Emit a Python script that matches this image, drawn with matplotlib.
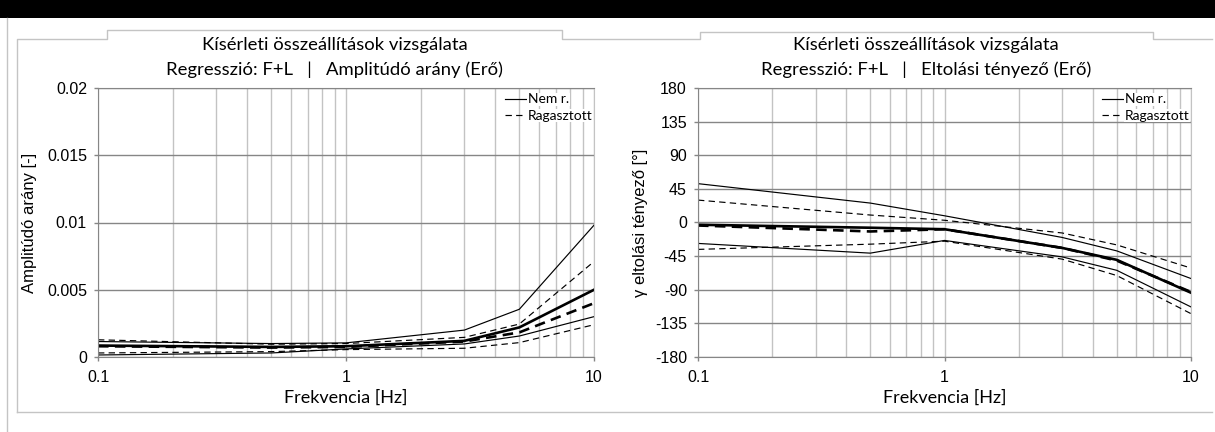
import matplotlib.pyplot as plt
from matplotlib.lines import Line2D
from matplotlib.patches import Rectangle
from matplotlib.ticker import FixedLocator, NullFormatter

W, H = 1215, 432

# measurement frequencies [Hz]
freq = [0.1, 0.5, 1, 3, 5, 10]

# amplitude ratio (force) - mean and band for both setups
amp_nem_mean = [0.00085, 0.00075, 0.0008, 0.0012, 0.0022, 0.0050]
amp_nem_upper = [0.00115, 0.0010, 0.00105, 0.0020, 0.00355, 0.0098]
amp_nem_lower = [0.00015, 0.0003, 0.0006, 0.00097, 0.00156, 0.0030]
amp_rag_mean = [0.0008, 0.0007, 0.00075, 0.00115, 0.00183, 0.0040]
amp_rag_upper = [0.00128, 0.00095, 0.0010, 0.00146, 0.00245, 0.0071]
amp_rag_lower = [0.0003, 0.0004, 0.00055, 0.00065, 0.00107, 0.0024]

# phase shift (force) [deg]
ph_nem_mean = [-3, -7, -9, -34, -50, -94]
ph_nem_upper = [52, 26, 9, -20, -38, -75]
ph_nem_lower = [-28, -41, -24, -46, -64, -113]
ph_rag_mean = [-4, -12, -9, -34, -51, -93]
ph_rag_upper = [30, 10, 3, -14, -30, -61]
ph_rag_lower = [-36, -29, -25, -49, -71, -122]

amp_ticks = [0, 0.005, 0.01, 0.015, 0.02]
amp_ticklabels = ['0', '0.005', '0.01', '0.015', '0.02']
ph_ticks = [-180, -135, -90, -45, 0, 45, 90, 135, 180]
x_ticks = [0.1, 1, 10]
x_ticklabels = ['0.1', '1', '10']
x_minor = [0.2, 0.3, 0.4, 0.5, 0.6, 0.7, 0.8, 0.9,
           2, 3, 4, 5, 6, 7, 8, 9]

TITLE_FONT = 'Lato'
TICK_FONT = 'Liberation Sans'


def fx(x):
    return x / W


def fy(y):
    return 1 - y / H


def box(left, right, top, bottom):
    return [fx(left), fy(bottom), (right - left) / W, (bottom - top) / H]


def frame_line(pts, color='#c4c4c4'):
    xs = [fx(p[0]) for p in pts]
    ys = [fy(p[1]) for p in pts]
    fig.add_artist(Line2D(xs, ys, color=color, lw=1.0))


def panel(rect, series, ylim, yticks, yticklabels, ylabel, ylabel_x,
          title2, title_x):
    ax = fig.add_axes(rect)
    ax.set_xscale('log')
    ax.set_xlim(0.1, 10)
    ax.set_ylim(*ylim)

    ax.xaxis.set_major_locator(FixedLocator(x_ticks))
    ax.set_xticklabels(x_ticklabels)
    ax.xaxis.set_minor_locator(FixedLocator(x_minor))
    ax.xaxis.set_minor_formatter(NullFormatter())
    ax.set_yticks(yticks)
    ax.set_yticklabels(yticklabels)

    ax.grid(True, axis='x', which='both', color='#c3c3c3', lw=1.0)
    ax.grid(True, axis='y', which='major', color='#868686', lw=1.0)
    ax.set_axisbelow(True)

    ax.tick_params(axis='both', which='major', length=3, width=1,
                   color='#868686', direction='out', labelsize=11.5, pad=5)
    ax.tick_params(axis='x', which='major', pad=6)
    ax.tick_params(axis='x', which='minor', length=0)
    for lab in ax.get_xticklabels() + ax.get_yticklabels():
        lab.set_family(TICK_FONT)

    for side in ['left', 'bottom', 'top']:
        ax.spines[side].set_color('#868686')
    ax.spines['right'].set_color('#c3c3c3')

    mean_n, up_n, lo_n, mean_r, up_r, lo_r = series
    ax.plot(freq, up_n, color='black', lw=0.85)
    ax.plot(freq, lo_n, color='black', lw=0.85)
    ax.plot(freq, up_r, color='black', lw=0.85, dashes=(5.4, 3.6))
    ax.plot(freq, lo_r, color='black', lw=0.85, dashes=(5.4, 3.6))
    ax.plot(freq, mean_n, color='black', lw=1.9)
    ax.plot(freq, mean_r, color='black', lw=1.9, dashes=(4.0, 2.4))

    handles = [Line2D([], [], color='black', lw=0.85),
               Line2D([], [], color='black', lw=0.85, dashes=(5.4, 3.6))]
    leg = ax.legend(handles, ['Nem r.', 'Ragasztott'], loc='upper right',
                    bbox_to_anchor=(1.0, 0.985), frameon=False,
                    prop={'family': TITLE_FONT, 'size': 10},
                    handlelength=1.5, handletextpad=0.15, labelspacing=0.3,
                    borderaxespad=0.0, borderpad=0.1)
    for t in leg.get_texts():
        t.set_bbox(dict(facecolor='white', edgecolor='none', pad=0.5))

    ax.set_xlabel('Frekvencia [Hz]', family=TITLE_FONT, fontsize=13)
    ax.xaxis.set_label_coords(0.5, (357 - 398) / 269)
    ax.xaxis.label.set_verticalalignment('center')
    ax.set_ylabel(ylabel, family=TICK_FONT, fontsize=12)
    ax.yaxis.set_label_coords(ylabel_x, 0.5)
    ax.yaxis.label.set_verticalalignment('center')

    fig.text(fx(title_x), fy(45), 'Kísérleti összeállítások vizsgálata',
             ha='center', va='center', family=TITLE_FONT, fontsize=13.3)
    fig.text(fx(title_x), fy(70), title2,
             ha='center', va='center', family=TITLE_FONT, fontsize=13.3)
    return ax


fig = plt.figure(figsize=(W / 100, H / 100), dpi=100)

# dark strip on top and the chart frames
fig.add_artist(Rectangle((0, fy(18)), 1, 18 / H, transform=fig.transFigure,
                         facecolor='black', edgecolor='none'))
frame_line([(7, 18), (7, 432)])
frame_line([(17, 412), (17, 39), (107, 39), (107, 30), (562, 30), (562, 39),
            (700, 39), (700, 32), (1153, 32), (1153, 39), (1212, 39)])
frame_line([(17, 412), (1212, 412)])

panel(box(98, 594, 88, 357),
      [amp_nem_mean, amp_nem_upper, amp_nem_lower,
       amp_rag_mean, amp_rag_upper, amp_rag_lower],
      (0, 0.02), amp_ticks, amp_ticklabels,
      'Amplitúdó arány [-]', (30 - 98) / 496,
      'Regresszió: F+L   |   Amplitúdó arány (Erő)', 335)

panel(box(698, 1191, 88, 357),
      [ph_nem_mean, ph_nem_upper, ph_nem_lower,
       ph_rag_mean, ph_rag_upper, ph_rag_lower],
      (-180, 180), ph_ticks, [str(t) for t in ph_ticks],
      'γ eltolási tényező [°]', (640 - 698) / 493,
      'Regresszió: F+L   |   Eltolási tényező (Erő)', 926)

fig.savefig('out.png', dpi=100)
